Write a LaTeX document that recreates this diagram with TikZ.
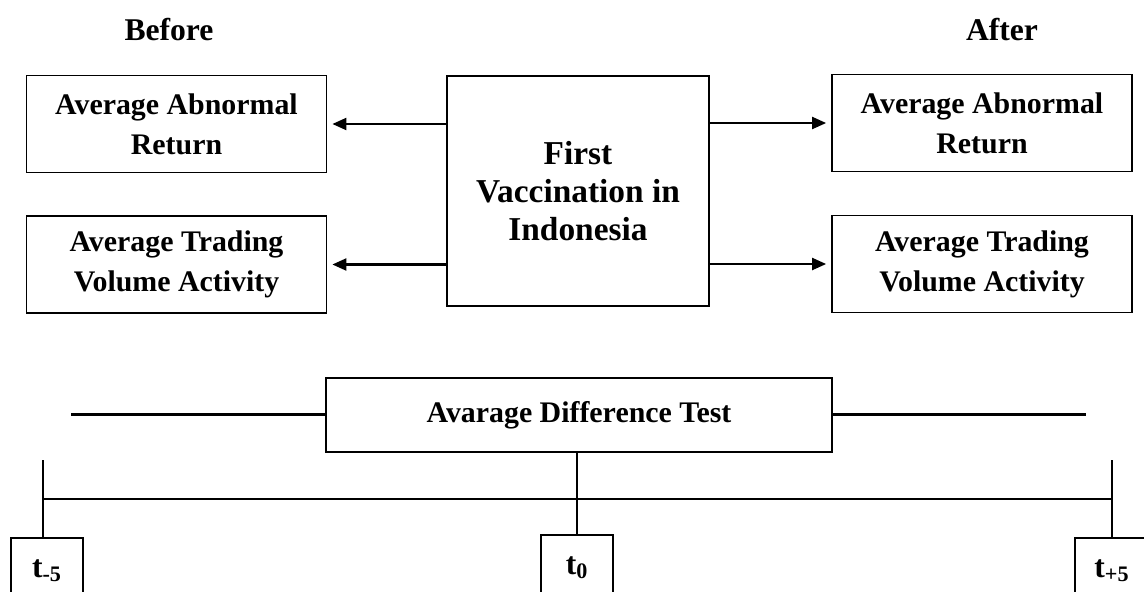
\documentclass[tikz,border=0pt]{standalone}
\usepackage{fontspec}
\setmainfont{Liberation Serif}
\usetikzlibrary{arrows.meta}

\begin{document}
\begin{tikzpicture}[x=1cm,y=1cm,
      heading/.style={font=\fontsize{18}{22}\selectfont\bfseries},
      panel/.style={draw, line width=1pt, align=center,
        font=\fontsize{17}{22.8}\selectfont\bfseries, inner sep=0pt},
      sidebox/.style={panel, minimum width=6.0cm, minimum height=1.94cm},
      tickbox/.style={panel, anchor=north, minimum width=1.44cm,
        minimum height=1.32cm, font=\fontsize{18}{22}\selectfont\bfseries},
      link/.style={line width=1.2pt, -{Triangle[length=.28cm,width=.24cm]},
        shorten >=.1cm},
      rule/.style={line width=1.3pt},
      timeline/.style={line width=1pt}]
      \useasboundingbox (0,0) rectangle (22.88,11.82);

      \node[heading] (before) at (3.38,11.22) {Before};
      \node[heading] (after) at (20.04,11.22) {After};

      \node[panel, minimum width=5.24cm, minimum height=4.60cm,
        font=\fontsize{19}{21.5}\selectfont\bfseries] (vaccine)
        at (11.56,8.00) {First\\Vaccination in\\Indonesia};

      \node[sidebox] (aarBefore) at (3.53,9.34) {Average Abnormal\\Return};
      \node[sidebox] (atvaBefore) at (3.53,6.53)
        {Average Trading\\Volume Activity};
      \node[sidebox] (aarAfter) at (19.64,9.36) {Average Abnormal\\Return};
      \node[sidebox] (atvaAfter) at (19.64,6.54)
        {Average Trading\\Volume Activity};

      \draw[link] (vaccine.west |- aarBefore.east) -- (aarBefore.east);
      \draw[link] (vaccine.west |- atvaBefore.east) -- (atvaBefore.east);
      \draw[link] (vaccine.east |- aarAfter.west) -- (aarAfter.west);
      \draw[link] (vaccine.east |- atvaAfter.west) -- (atvaAfter.west);

      \node[panel, minimum width=10.12cm, minimum height=1.48cm] (test)
        at (11.58,3.52) {Avarage Difference Test};
      \coordinate (testLeft) at (1.42,3.53);
      \coordinate (testRight) at (21.72,3.53);
      \draw[rule] (testLeft) -- (testLeft -| test.west);
      \draw[rule] (test.east) -- (test.east |- testRight) -- (testRight);

      \node[tickbox] (tMinus) at (.94,1.08) {t\textsubscript{-5}};
      \node[tickbox] (tZero) at (11.54,1.14) {t\textsubscript{0}};
      \node[tickbox, minimum width=1.48cm] (tPlus) at (22.24,1.08)
        {t\textsubscript{+5}};

      \coordinate (startTop) at (.86,2.62);
      \coordinate (endTop) at (22.24,2.62);
      \draw[timeline] (startTop) -- (startTop |- tMinus.north);
      \draw[timeline] (endTop) -- (tPlus.north);
      \draw[timeline] (test.south -| tZero.north) -- (tZero.north);
      \draw[timeline] (.86,1.84) -- (22.24,1.84);
    \end{tikzpicture}
\end{document}
